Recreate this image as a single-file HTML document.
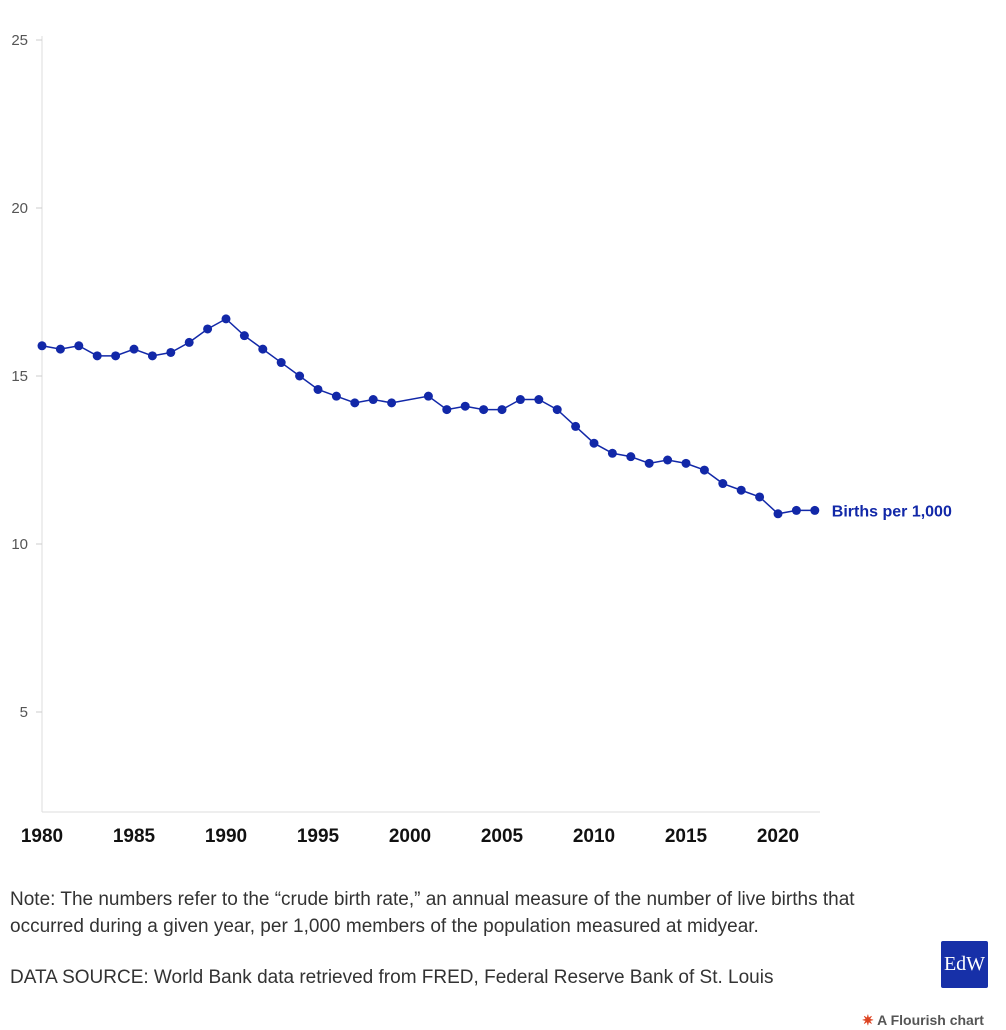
<!DOCTYPE html>
<html><head><meta charset="utf-8"><style>
body{margin:0;width:1006px;height:1030px;background:#fff;font-family:"Liberation Sans",sans-serif;position:relative;overflow:hidden}
svg{position:absolute;left:0;top:0}
.note{position:absolute;left:10px;top:886px;font-size:19px;color:#333;line-height:27px;width:915px}
.src{position:absolute;left:10px;top:967px;font-size:19px;color:#333}
.logo{position:absolute;left:941px;top:941px;width:47px;height:47px;background:#1730a8;color:#fff;font-family:"Liberation Serif",serif;font-size:20px;display:flex;align-items:center;justify-content:center;border-radius:2px}
.fl{position:absolute;left:862px;top:1012px;font-size:14px;color:#555;font-weight:bold}
</style></head><body>
<svg id="chart" width="1006" height="880"></svg>
<div class="note">Note: The numbers refer to the “crude birth rate,” an annual measure of the number of live births that occurred during a given year, per 1,000 members of the population measured at midyear.</div>
<div class="src">DATA SOURCE: World Bank data retrieved from FRED, Federal Reserve Bank of St. Louis</div>
<div class="logo">EdW</div>
<div class="fl"><span style="color:#d42">✷</span> A Flourish chart</div>
<script>
const years=[1980,1981,1982,1983,1984,1985,1986,1987,1988,1989,1990,1991,1992,1993,1994,1995,1996,1997,1998,1999,2001,2002,2003,2004,2005,2006,2007,2008,2009,2010,2011,2012,2013,2014,2015,2016,2017,2018,2019,2020,2021,2022];
const births=[15.9,15.8,15.9,15.6,15.6,15.8,15.6,15.7,16.0,16.4,16.7,16.2,15.8,15.4,15.0,14.6,14.4,14.2,14.3,14.2,14.4,14.0,14.1,14.0,14.0,14.3,14.3,14.0,13.5,13.0,12.7,12.6,12.4,12.5,12.4,12.2,11.8,11.6,11.4,10.9,11.0,11.0];
const yTicks=[5,10,15,20,25];
const xTicks=[1980,1985,1990,1995,2000,2005,2010,2015,2020];
const NS="http://www.w3.org/2000/svg";
const svg=document.getElementById('chart');
const x=v=>42+(v-1980)*18.4;
const y=v=>40+(25-v)*33.6;
function mk(t,a,p){const e=document.createElementNS(NS,t);for(const k in a)e.setAttribute(k,a[k]);(p||svg).appendChild(e);return e;}
let ax=mk('line',{x1:42,y1:36,x2:42,y2:812,stroke:'#ddd'});


let bx=mk('line',{x1:42,y1:812,x2:820,y2:812,stroke:'#ddd'});


yTicks.forEach(t=>{
 let tk=mk('line',{x1:36,x2:42,y1:y(t),y2:y(t),stroke:'#ccc'});
 
 
 let l=mk('text',{x:28,y:y(t)+5,'text-anchor':'end','font-size':15,fill:'#555'});
 l.textContent=t;
 
 
});
xTicks.forEach(t=>{
 let l=mk('text',{x:x(t),y:842,'text-anchor':'middle','font-size':19,'font-weight':'bold',fill:'#111'});
 l.textContent=t;
 
 
});
let line=mk('polyline',{points:years.map((v,i)=>x(v)+','+y(births[i])).join(' '),fill:'none',stroke:'#1228a8','stroke-width':1.5});


years.forEach((v,i)=>{
 let c=mk('circle',{cx:x(v),cy:y(births[i]),r:4.5,fill:'#1228a8'});
 
 
});
const li=years.length-1;
let lab=mk('text',{x:x(years[li])+17,y:y(births[li])+6,'font-size':16,'font-weight':'bold',fill:'#1228a8'});
lab.textContent='Births per 1,000';


</script>
</body></html>
